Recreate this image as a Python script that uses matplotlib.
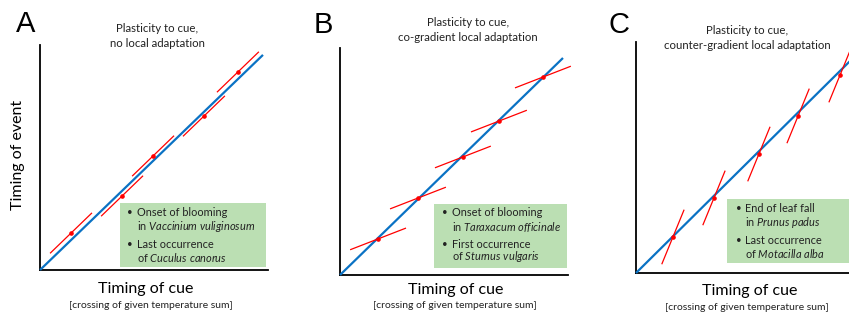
import matplotlib
matplotlib.use("Agg")
import matplotlib.pyplot as plt
import numpy as np

plt.rcParams['font.family'] = ['Lato', 'DejaVu Sans']
plt.rcParams['mathtext.fontset'] = 'custom'
plt.rcParams['mathtext.rm'] = 'Lato'
plt.rcParams['mathtext.it'] = 'Lato:italic'

# panel data (axes units 0..1)
panel_letters = ['A', 'B', 'C']
panel_titles = ['Plasticity to cue,\nno local adaptation',
                'Plasticity to cue,\nco-gradient local adaptation',
                'Plasticity to cue,\ncounter-gradient local adaptation']
blue_end = [(0.978, 0.956), (0.978, 0.956), (0.978, 0.956)]
red_x = [[0.136, 0.360, 0.496, 0.719, 0.868],
         [0.167, 0.342, 0.539, 0.697, 0.890],
         [0.162, 0.342, 0.539, 0.711, 0.895]]
red_y = [[0.164, 0.329, 0.507, 0.684, 0.880],
         [0.159, 0.339, 0.520, 0.678, 0.872],
         [0.156, 0.325, 0.515, 0.680, 0.857]]
red_slope = [0.978, 0.39, 2.41]
red_halfdx = [0.09, 0.12, 0.048]
box_lines = [["Onset of blooming", r"in $\mathit{Vaccinium\ vuliginosum}$",
              "Last occurrence", r"of $\mathit{Cuculus\ canorus}$"],
             ["Onset of blooming", r"in $\mathit{Taraxacum\ officinale}$",
              "First occurrence", r"of $\mathit{Sturnus\ vulgaris}$"],
             ["End of leaf fall", r"in $\mathit{Prunus\ padus}$",
              "Last occurrence", r"of $\mathit{Motacilla\ alba}$"]]

W, H = 849, 318
fig = plt.figure(figsize=(W / 100, H / 100), dpi=100)

def fx(px):
    return px / W

def fy(py):
    return 1 - py / H

# pixel layout of each panel
ax_box = [(40, 270, 228, 225), (340, 275, 228, 227), (636, 273, 228, 231)]
green_box = [(120, 203, 266, 267), (434, 204, 567, 268), (727, 199, 870, 263)]
bullet_x = [127, 442, 736]
text_x = [137, 452, 745]
line_y = [[213, 227, 245, 257], [213, 227, 245, 257], [209, 222, 240, 253]]
letter_pos = [(16, 32), (314, 33), (609, 33)]
title_pos = [(157, 36), (468, 30), (747, 38)]
xlab_pos = [(146, 289), (456, 290), (750, 291)]
sub_pos = [(151, 305), (455, 305), (747, 307)]

blue = '#0a72c4'
red = '#ff0000'
green = '#bbdfb3'

for i in range(3):
    x0, y0, w, h = ax_box[i]
    ax = fig.add_axes([fx(x0), fy(y0), w / W, h / H])
    ax.set_xlim(0, 1)
    ax.set_ylim(0, 1)
    for s in ['top', 'right']:
        ax.spines[s].set_visible(False)
    for s in ['left', 'bottom']:
        ax.spines[s].set_linewidth(1.3)
        ax.spines[s].set_color('black')
    ax.set_xticks([])
    ax.set_yticks([])
    ax.patch.set_alpha(0)

    # green info box
    bx0, by0, bx1, by1 = green_box[i]
    fig.patches.append(plt.Rectangle((fx(bx0), fy(by1)), fx(bx1 - bx0), (by1 - by0) / H,
                                     transform=fig.transFigure, facecolor=green,
                                     edgecolor='none', zorder=0))

    # blue reaction norm
    ax.plot([0, blue_end[i][0]], [0, blue_end[i][1]], color=blue, lw=1.6,
            solid_capstyle='butt', clip_on=False, zorder=3)

    # red local reaction norms
    for xc, yc in zip(red_x[i], red_y[i]):
        d = red_halfdx[i]
        ax.plot([xc - d, xc + d], [yc - red_slope[i] * d, yc + red_slope[i] * d],
                color=red, lw=0.9, clip_on=False, zorder=4)
        ax.plot(xc, yc, 'o', color=red, ms=2.3, zorder=5, clip_on=False)

    for j, line in enumerate(box_lines[i]):
        if j % 2 == 0:
            fig.text(fx(bullet_x[i]), fy(line_y[i][j]), u'\u2022', fontsize=7,
                     ha='left', va='center', color='#222222')
        fig.text(fx(text_x[i]), fy(line_y[i][j]), line, fontsize=7.9,
                 ha='left', va='center', color='#222222')

    lx, ly = letter_pos[i]
    fig.text(fx(lx), fy(ly), panel_letters[i], fontsize=21, family='Liberation Sans',
             ha='left', va='baseline')
    tx, ty = title_pos[i]
    fig.text(fx(tx), fy(ty), panel_titles[i], fontsize=8.2, ha='center', va='center',
             linespacing=1.4, color='#222222')
    xx, xy = xlab_pos[i]
    fig.text(fx(xx), fy(xy), 'Timing of cue', fontsize=11.5, ha='center', va='center')
    sx, sy = sub_pos[i]
    fig.text(fx(sx), fy(sy), '[crossing of given temperature sum]', fontsize=7.5,
             ha='center', va='center', color='#222222')

fig.text(fx(18), fy(155), 'Timing of event', fontsize=11.5, rotation=90,
         ha='center', va='center')

fig.savefig('out.png', dpi=100)
